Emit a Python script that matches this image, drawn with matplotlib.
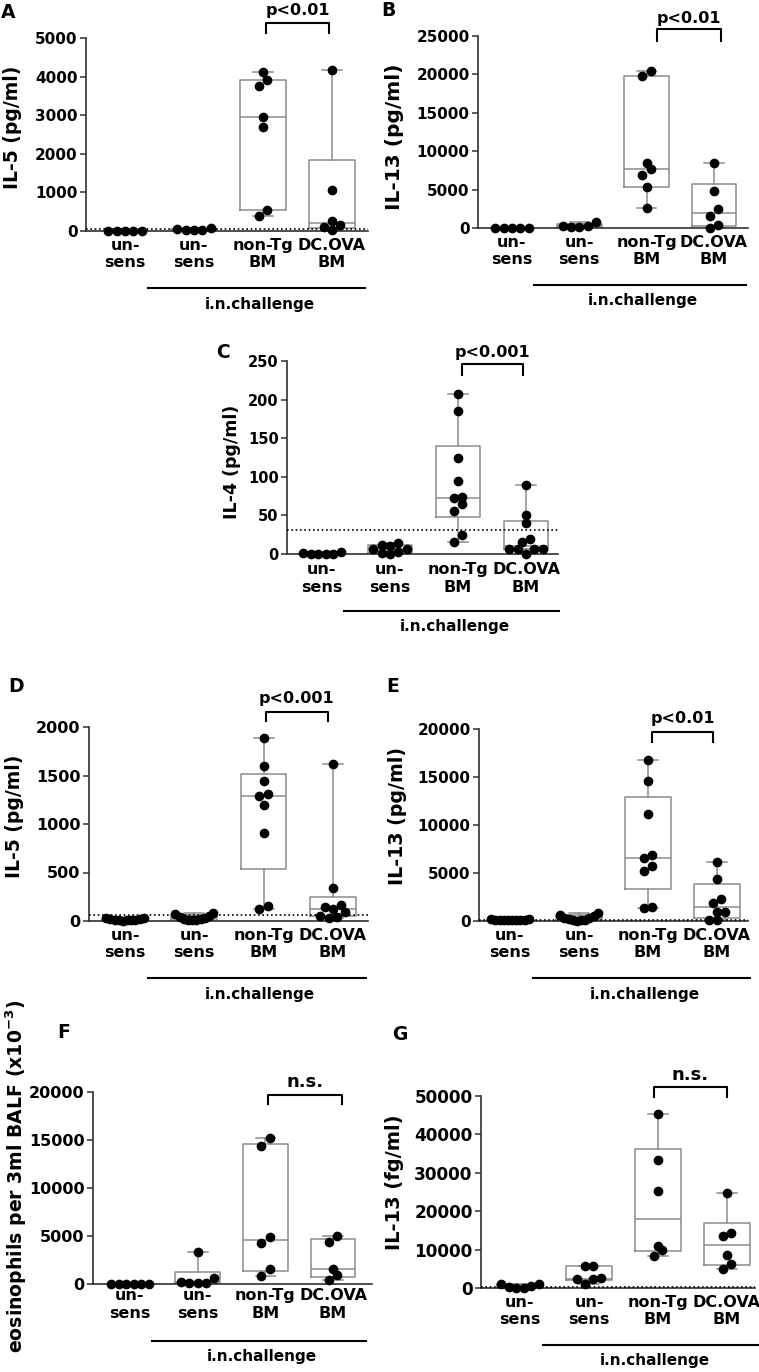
import numpy as np
import matplotlib
matplotlib.use("Agg")
import matplotlib.pyplot as plt  # noqa: E402
from matplotlib.transforms import blended_transform_factory  # noqa: E402

W, H = 759, 1372

groups = ["un-\nsens", "un-\nsens", "non-Tg\nBM", "DC.OVA\nBM"]

# values (one list per group)
a_uns1 = [0, 0, 0, 0, 0]
a_uns2 = [80, 20, 20, 20, 40]
a_nontg = [4110, 3920, 3760, 2950, 2700, 540, 380]
a_dcova = [4160, 1050, 260, 165, 100, 15]

b_uns1 = [0, 0, 0, 0, 0]
b_uns2 = [750, 150, 150, 200, 250]
b_nontg = [20450, 19800, 8400, 7700, 6900, 5400, 2600]
b_dcova = [8450, 4850, 2450, 1500, 400, 0]

c_uns1 = [1, 0, 0, 0, 0, 2]
c_uns2 = [14, 12, 11, 7, 6, 3, 1, 0]
c_nontg = [207, 185, 125, 95, 74, 72, 65, 56, 25, 15]
c_dcova = [89, 51, 40, 19, 15, 7, 7, 6, 6, 0]

d_uns1 = [30, 22, 15, 10, 6, 4, 8, 12, 18, 26]
d_uns2 = [85, 70, 55, 40, 30, 25, 20, 15, 10, 10]
d_nontg = [1886, 1593, 1448, 1307, 1293, 1200, 910, 155, 128]
d_dcova = [1620, 340, 160, 145, 125, 95, 55, 40, 30]

e_uns1 = [200, 150, 150, 100, 100, 100, 100, 150, 150, 200]
e_uns2 = [800, 560, 350, 200, 100, 50, 80, 150, 300, 620]
e_nontg = [16730, 14610, 11160, 6890, 6610, 5770, 5180, 1500, 1390]
e_dcova = [6190, 4350, 2300, 1910, 970, 900, 100, 100]

f_uns1 = [0, 0, 0, 0, 0, 0]
f_uns2 = [3300, 600, 170, 150, 100, 100]
f_nontg = [15160, 14360, 4880, 4260, 1560, 800]
f_dcova = [5020, 4330, 1550, 950, 450]

g_uns1 = [1000, 200, 0, 0, 600, 1000]
g_uns2 = [5700, 5650, 2500, 2400, 2300, 1130]
g_nontg = [45220, 33300, 25220, 10870, 10000, 8350]
g_dcova = [24780, 14350, 13480, 8700, 6350, 5040]

# detection limits (dotted lines), None = not drawn
lods = {"A": 50, "B": None, "C": 31, "D": 60, "E": 150, "F": None, "G": 150}

# layout in pixels: axes rect (l, t, r, b), first category x + spacing,
# bracket (x0, x1, top above axes, drop, text above axes), label spots
panels = [
    dict(letter="A", data=[a_uns1, a_uns2, a_nontg, a_dcova], ylabel="IL-5 (pg/ml)",
         ymax=5000, ystep=1000, ptext="p<0.01", rect=(86, 38, 368, 231), cats=(125, 69),
         br=(2.05, 2.95, 15, 10, 28), lab=(8, 12), yl=(13, 127, 13.5), tick=11, xpad=5),
    dict(letter="B", data=[b_uns1, b_uns2, b_nontg, b_dcova], ylabel="IL-13 (pg/ml)",
         ymax=25000, ystep=5000, ptext="p<0.01", rect=(478, 36, 748, 228), cats=(512, 67.3),
         br=(2.16, 3.1, 7, 12, 18), lab=(388, 10), yl=(395, 137, 14.5), tick=11, xpad=5),
    dict(letter="C", data=[c_uns1, c_uns2, c_nontg, c_dcova], ylabel="IL-4 (pg/ml)",
         ymax=250, ystep=50, ptext="p<0.001", rect=(287, 361, 558, 554), cats=(322, 68),
         br=(2.06, 2.96, -3, 11, 8), lab=(223, 352), yl=(232, 462, 12.5), tick=10.5, xpad=6),
    dict(letter="D", data=[d_uns1, d_uns2, d_nontg, d_dcova], ylabel="IL-5 (pg/ml)",
         ymax=2000, ystep=500, ptext="p<0.001", rect=(89, 727, 368, 921), cats=(125, 69.3),
         br=(2.03, 2.93, 15, 9, 29), lab=(16, 687), yl=(15, 816, 13.5), tick=11.5, xpad=5),
    dict(letter="E", data=[e_uns1, e_uns2, e_nontg, e_dcova], ylabel="IL-13 (pg/ml)",
         ymax=20000, ystep=5000, ptext="p<0.01", rect=(479, 729, 748, 921), cats=(510, 69),
         br=(2.06, 2.94, -3, 10, 11), lab=(393, 687), yl=(397, 816, 13.7), tick=11, xpad=5),
    dict(letter="F", data=[f_uns1, f_uns2, f_nontg, f_dcova],
         ylabel="eosinophils per 3ml BALF (x10$^{-3}$)",
         ymax=20000, ystep=5000, ptext="n.s.", rect=(93, 1092, 372, 1284), cats=(130, 67.7),
         br=(2.04, 3.13, -3, 9, 10), lab=(64, 1032), yl=(16, 1176, 13.6), tick=11.5, xpad=3),
    dict(letter="G", data=[g_uns1, g_uns2, g_nontg, g_dcova], ylabel="IL-13 (fg/ml)",
         ymax=50000, ystep=10000, ptext="n.s.", rect=(481, 1096, 755, 1288), cats=(520, 69),
         br=(1.94, 3.0, 9, 10, 21), lab=(400, 1035), yl=(395, 1182, 14), tick=12.2, xpad=5),
]

plt.rcParams["font.family"] = "DejaVu Sans"
plt.rcParams["font.weight"] = "bold"
plt.rcParams["mathtext.fontset"] = "dejavusans"
plt.rcParams["mathtext.default"] = "bf"

BOXC = "#8c8c8c"
AXC = "#303030"
DOT_PX = 8.3


def swarm_x(ax, xc, vals, d_px=DOT_PX, maxw_px=46.0):
    """GraphPad-like scatter: bin points that overlap vertically into centred rows."""
    vals = np.asarray(vals, float)
    pts = ax.transData.transform(np.column_stack([np.full(len(vals), xc), vals]))
    ypx = pts[:, 1]
    px_per_unit = ax.transData.transform((1, 0))[0] - ax.transData.transform((0, 0))[0]
    order = np.argsort(ypx, kind="stable")
    bins = []
    for i in order:
        if bins and ypx[i] - ypx[bins[-1][0]] < d_px * 0.95:
            bins[-1].append(i)
        else:
            bins.append([i])
    offs = np.zeros(len(vals))
    for b in bins:
        k = len(b)
        if k == 1:
            continue
        s = min(d_px, (maxw_px - d_px) / (k - 1))
        slots = sorted([(j - (k - 1) / 2) * s for j in range(k)], key=lambda v: (abs(v), v))
        for idx, sl in zip(b, slots):
            offs[idx] = sl
    return xc + offs / px_per_unit


def box_stats(vals):
    q1, med, q3 = np.percentile(vals, [25, 50, 75], method="weibull")
    return dict(med=med, q1=q1, q3=q3, whislo=min(vals), whishi=max(vals), fliers=[])


fig = plt.figure(figsize=(W / 100, H / 100), dpi=100)

for p in panels:
    l, t, r, b = p["rect"]
    hpx = b - t
    ax = fig.add_axes([l / W, 1 - b / H, (r - l) / W, hpx / H])
    c0, sp = p["cats"]
    ax.set_xlim((l - c0) / sp, (r - c0) / sp)
    ax.set_ylim(0, p["ymax"])
    ax.set_yticks(np.arange(0, p["ymax"] + 1, p["ystep"]))
    ax.set_xticks(range(4))
    ax.set_xticklabels(groups, fontsize=11.5, fontweight="bold", linespacing=1.2)
    ax.tick_params(axis="x", length=0, pad=p["xpad"])
    ax.tick_params(axis="y", direction="out", length=4.5, width=1.1, color=AXC,
                   labelsize=p["tick"], pad=1.5)
    for s in ("top", "right"):
        ax.spines[s].set_visible(False)
    for s in ("left", "bottom"):
        ax.spines[s].set_color(AXC)
        ax.spines[s].set_linewidth(1.2)

    line = dict(color=BOXC, linewidth=1.1)
    ax.bxp([box_stats(v) for v in p["data"]], positions=range(4), widths=0.66, capwidths=0.29,
           showfliers=False, manage_ticks=False, boxprops=line, whiskerprops=line,
           capprops=line, medianprops=line, zorder=2)

    for i, vals in enumerate(p["data"]):
        ax.plot(swarm_x(ax, i, vals), vals, "o", ms=DOT_PX * 0.72, color="black",
                mec="black", clip_on=False, zorder=4)

    lod = lods[p["letter"]]
    if lod is not None:
        ax.axhline(lod, color="black", linestyle=(0, (1, 1.6)), linewidth=1.2, zorder=3)

    # i.n.challenge bar under the three challenged groups
    tr = blended_transform_factory(ax.transData, ax.transAxes)
    ax.plot([0.33, 3.48], [-57 / hpx] * 2, color="black", linewidth=1.5,
            transform=tr, clip_on=False)
    ax.text(1.95, -73 / hpx, "i.n.challenge", transform=tr, ha="center", va="center",
            fontsize=11, fontweight="bold")

    # significance bracket
    x0, x1, top, drop, txt = p["br"]
    yt = 1 + top / hpx
    ax.plot([x0, x0, x1, x1], [yt - drop / hpx, yt, yt, yt - drop / hpx], color="black",
            linewidth=1.5, transform=tr, clip_on=False)
    ax.text((x0 + x1) / 2, 1 + txt / hpx, p["ptext"], transform=tr, ha="center", va="center",
            fontsize=13 if p["ptext"] == "n.s." else 11.5, fontweight="bold")

    lx, ly = p["lab"]
    fig.text(lx / W, 1 - ly / H, p["letter"], ha="center", va="center", fontsize=13.5,
             fontweight="bold")
    yx, yy, ys = p["yl"]
    fig.text(yx / W, 1 - yy / H, p["ylabel"], rotation=90, ha="center", va="center",
             fontsize=ys, fontweight="bold")

fig.savefig("out.png", dpi=100)
